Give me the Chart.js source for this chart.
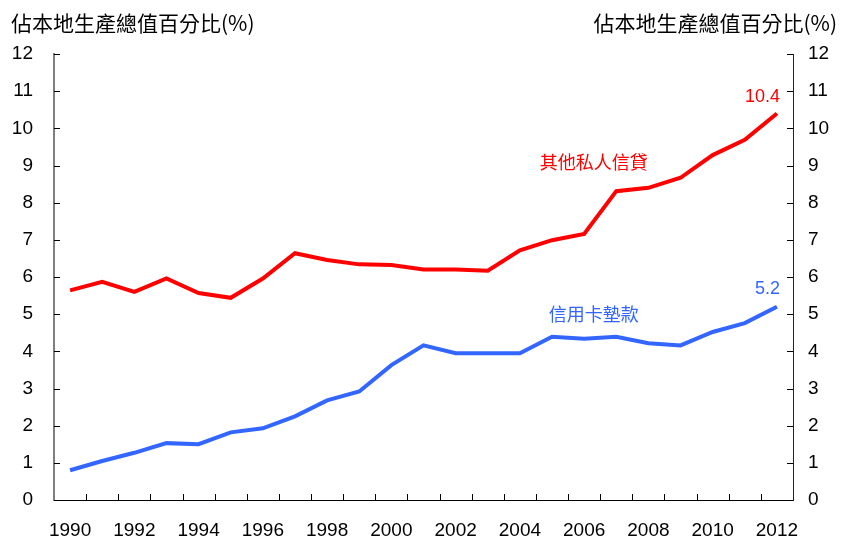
<!DOCTYPE html>
<html>
<head>
<meta charset="utf-8">
<script src="https://cdn.jsdelivr.net/npm/chart.js@4"></script>
<style>
    body { margin: 0; background: #fff; }
</style>
</head>
<body>
<canvas id="credit-chart" width="843" height="542"></canvas>
<script>
const years = ["1990", "1991", "1992", "1993", "1994", "1995", "1996", "1997", "1998", "1999", "2000", "2001",
    "2002", "2003", "2004", "2005", "2006", "2007", "2008", "2009", "2010", "2011", "2012"];
const other_credit = [5.64, 5.87, 5.60, 5.96, 5.57, 5.44, 5.96, 6.64, 6.46, 6.34, 6.32, 6.20,
    6.20, 6.17, 6.72, 6.99, 7.16, 8.31, 8.40, 8.67, 9.28, 9.69, 10.4];
const card_advances = [0.80, 1.05, 1.27, 1.53, 1.50, 1.82, 1.93, 2.25, 2.68, 2.92, 3.63, 4.16,
    3.95, 3.95, 3.95, 4.39, 4.34, 4.39, 4.22, 4.16, 4.52, 4.76, 5.2];
const series_names = ["其他私人信貸", "信用卡墊款"];
const axis_title = "佔本地生產總值百分比(%)";

const red = "#ff0000";
const blue = "#3366ff";
const cjk_font = "'Noto Sans CJK TC', 'Noto Sans CJK SC', sans-serif";
const num_font = "'Liberation Sans', Arial, sans-serif";

// short tick marks pointing into the plot, plus the texts around it
const decorations = {
    id: 'decorations',
    afterDraw(chart) {
        const ctx = chart.ctx;
        const area = chart.chartArea;
        const x = chart.scales.x;
        const y = chart.scales.y;
        ctx.save();
        ctx.strokeStyle = "#000";
        ctx.lineWidth = 1;
        ctx.beginPath();
        y.ticks.forEach((t, i) => {
            const py = Math.round(y.getPixelForTick(i)) + 0.5;
            ctx.moveTo(area.left, py);
            ctx.lineTo(area.left + 6, py);
            ctx.moveTo(area.right - 6, py);
            ctx.lineTo(area.right, py);
        });
        for (let i = 1; i < years.length; i++) {
            const px = Math.round(x.getPixelForValue(i - 0.5)) + 0.5;
            ctx.moveTo(px, area.bottom);
            ctx.lineTo(px, area.bottom - 6);
        }
        ctx.stroke();

        // axis titles
        ctx.fillStyle = "#000";
        ctx.font = "21px " + cjk_font;
        ctx.textBaseline = "middle";
        ctx.textAlign = "left";
        ctx.fillText(axis_title, 11, 23);
        ctx.textAlign = "right";
        ctx.fillText(axis_title, 837, 23);

        // series names and end values
        const last = years.length - 1;
        const end_x = x.getPixelForValue(last) + 3;
        ctx.font = "18px " + num_font;
        ctx.fillStyle = red;
        ctx.fillText(other_credit[last].toFixed(1), end_x, y.getPixelForValue(other_credit[last]) - 16);
        ctx.fillStyle = blue;
        ctx.fillText(card_advances[last].toFixed(1), end_x, y.getPixelForValue(card_advances[last]) - 18);

        ctx.textAlign = "center";
        ctx.font = "18px " + cjk_font;
        ctx.fillStyle = red;
        ctx.fillText(series_names[0], x.getPixelForValue(16.3), y.getPixelForValue(9.1));
        ctx.fillStyle = blue;
        ctx.fillText(series_names[1], x.getPixelForValue(16.3), y.getPixelForValue(5.0));
        ctx.restore();
    }
};

const y_axis = (position, border_color, border_width, padding, width) => ({
    position: position,
    min: 0,
    max: 12,
    ticks: {
        stepSize: 1,
        color: "#000",
        padding: padding,
        font: { family: num_font, size: 19 }
    },
    grid: { drawOnChartArea: false, drawTicks: false },
    border: { display: true, color: border_color, width: border_width },
    afterFit: (scale) => { scale.width = width; }
});

let credit_chart = new Chart(
    document.getElementById('credit-chart'),
    {
        type: 'line',
        data: {
            labels: years,
            datasets: [
                {
                    label: series_names[0],
                    data: other_credit,
                    borderColor: red,
                    backgroundColor: red,
                    borderWidth: 4,
                    pointRadius: 0,
                    tension: 0,
                    yAxisID: 'y'
                },
                {
                    label: series_names[1],
                    data: card_advances,
                    borderColor: blue,
                    backgroundColor: blue,
                    borderWidth: 4,
                    pointRadius: 0,
                    tension: 0,
                    yAxisID: 'y'
                }
            ]
        },
        options: {
            responsive: false,
            animation: false,
            layout: { padding: { top: 54, left: 0, right: 0, bottom: 0 } },
            scales: {
                x: {
                    offset: true,
                    grid: { offset: true, drawOnChartArea: false, drawTicks: false },
                    border: { display: true, color: "#000", width: 1 },
                    ticks: {
                        autoSkip: false,
                        maxRotation: 0,
                        color: "#000",
                        padding: 19,
                        font: { family: num_font, size: 19 },
                        callback: function (value, index) {
                            return index % 2 == 0 ? this.getLabelForValue(value) : "";
                        }
                    },
                    afterFit: (scale) => { scale.height = 42; }
                },
                y: y_axis('left', "#7f7f7f", 2, 21, 54),
                y2: y_axis('right', "#222", 1, 15, 50)
            },
            plugins: {
                legend: { display: false },
                tooltip: { enabled: false }
            }
        },
        plugins: [decorations]
    }
);
</script>
</body>
</html>
